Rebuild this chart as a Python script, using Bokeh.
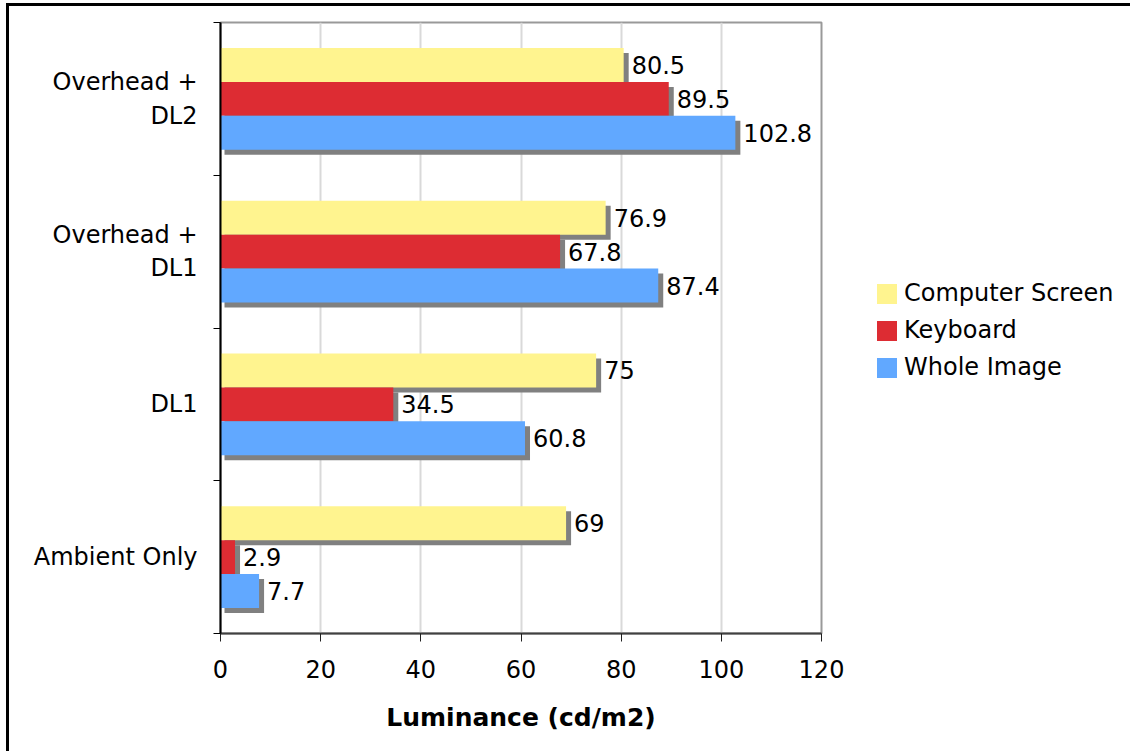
from bokeh.plotting import figure
from bokeh.models import FixedTicker, Legend, LegendItem, ColumnDataSource, Range1d
from bokeh.core.properties import value
from bokeh.embed import file_html
from bokeh.resources import INLINE

categories = ["Ambient Only", "DL1", "Overhead +\nDL1", "Overhead +\nDL2"]
series_names = ["Computer Screen", "Keyboard", "Whole Image"]
computer_screen = [69, 75, 76.9, 80.5]
keyboard = [2.9, 34.5, 67.8, 89.5]
whole_image = [7.7, 60.8, 87.4, 102.8]
x_ticks = [0, 20, 40, 60, 80, 100, 120]

colors = ["#fff48f", "#dd2c33", "#61a8ff"]
offsets = [0.222, 0.0, -0.222]
bar_h = 0.222
FONT = "DejaVu Sans"
FS = "24px"

p = figure(frame_width=601, frame_height=611, x_range=Range1d(0, 120), y_range=Range1d(0, 4),
           output_backend="svg", toolbar_location=None,
           min_border_left=211, min_border_top=16, min_border_bottom=135, min_border_right=300)
p.styles = {"margin-left": "6px", "margin-top": "3px",
            "border-left": "3px solid black", "border-top": "3px solid black",
            "border-right": "0px none", "border-bottom": "0px none"}
p.background_fill_color = "white"
p.border_fill_color = "white"
p.outline_line_color = "#999999"
p.outline_line_width = 2

p.ygrid.visible = False
p.xgrid.ticker = FixedTicker(ticks=x_ticks)
p.xgrid.grid_line_color = "#d9d9d9"
p.xgrid.grid_line_width = 2

p.xaxis.ticker = FixedTicker(ticks=x_ticks)
p.xaxis.axis_label = "Luminance (cd/m2)"
p.xaxis.axis_label_text_font = FONT
p.xaxis.axis_label_text_font_style = "bold"
p.xaxis.axis_label_text_font_size = "25px"
p.xaxis.axis_label_text_color = "black"
p.xaxis.axis_label_standoff = 22
p.xaxis.major_label_text_font = FONT
p.xaxis.major_label_text_font_size = FS
p.xaxis.major_label_text_color = "black"
p.xaxis.major_label_standoff = 18
p.xaxis.major_tick_in = 0
p.xaxis.major_tick_out = 8
p.xaxis.minor_tick_line_color = None
p.xaxis.axis_line_color = "#404040"
p.xaxis.axis_line_width = 2
p.xaxis.major_tick_line_color = "#202020"

group_centers = [i + 0.5 for i in range(len(categories))]
p.yaxis.ticker = FixedTicker(ticks=group_centers, minor_ticks=list(range(len(categories) + 1)))
p.yaxis.major_label_overrides = {c: lab for c, lab in zip(group_centers, categories)}
p.yaxis.major_label_text_font = FONT
p.yaxis.major_label_text_font_size = FS
p.yaxis.major_label_text_color = "black"
p.yaxis.major_label_standoff = 16
p.yaxis.major_tick_line_color = None
p.yaxis.minor_tick_in = 0
p.yaxis.minor_tick_out = 7
p.yaxis.minor_tick_line_color = "black"
p.yaxis.axis_line_color = "black"
p.yaxis.axis_line_width = 2

all_series = [computer_screen, keyboard, whole_image]
shadow_dx = 1.0
shadow_dy = 0.033

for vals, off in zip(all_series, offsets):
    ys = [c + off - shadow_dy for c in group_centers]
    src = ColumnDataSource(dict(y=ys, left=[0.8] * len(vals), right=[v + shadow_dx for v in vals]))
    p.hbar(y="y", left="left", right="right", height=bar_h, source=src,
           fill_color="#808080", line_color=None)

renderers = []
for vals, off, col in zip(all_series, offsets, colors):
    ys = [c + off for c in group_centers]
    src = ColumnDataSource(dict(y=ys, right=vals, label=[f"{v:g}" for v in vals]))
    r = p.hbar(y="y", left=0, right="right", height=bar_h, source=src,
               fill_color=col, line_color=None)
    renderers.append(r)
    p.text(x="right", y="y", text="label", source=src, x_offset=8,
           text_align="left", text_baseline="middle", text_font=value(FONT),
           text_font_size=FS, text_color="black")

legend = Legend(items=[LegendItem(label=n, renderers=[r]) for n, r in zip(series_names, renderers)],
                location=(53, 252), glyph_width=25, glyph_height=25, spacing=9,
                padding=0, margin=0, border_line_color=None, background_fill_alpha=0,
                label_text_font=FONT, label_text_font_size=FS, label_standoff=5,
                label_text_color="black")
p.add_layout(legend, "right")

open("out.html", "w").write(file_html(p, INLINE))
